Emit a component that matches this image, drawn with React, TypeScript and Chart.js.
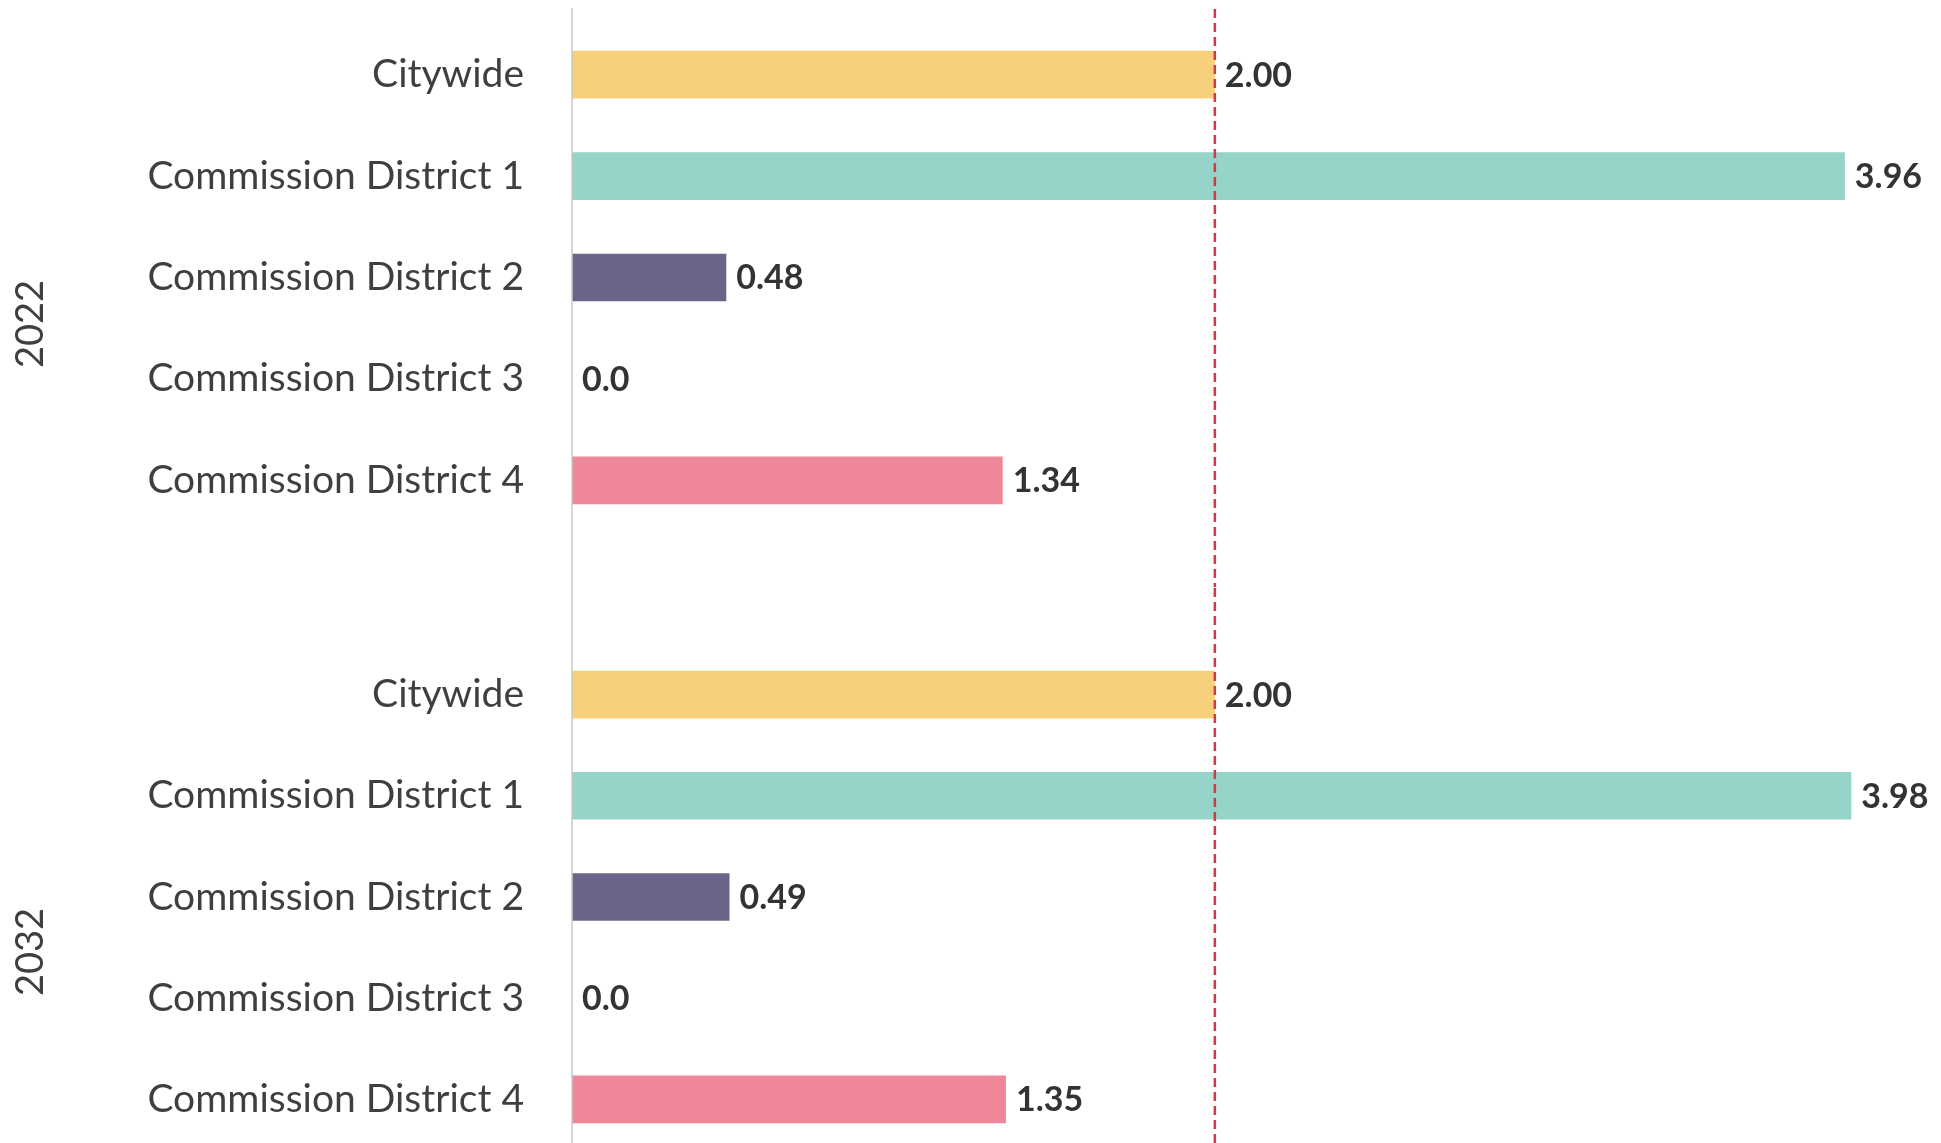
import React, { useEffect, useRef } from "react";
import { Chart, registerables } from "chart.js";

Chart.register(...registerables);

// ---------- data ----------
const CATEGORIES = [
  "Citywide",
  "Commission District 1",
  "Commission District 2",
  "Commission District 3",
  "Commission District 4",
];
const YEARS = ["2022", "2032"];
const VALUES_2022 = [2.0, 3.96, 0.48, 0.0, 1.34];
const VALUES_2032 = [2.0, 3.98, 0.49, 0.0, 1.35];
const VALUE_LABELS_2022 = ["2.00", "3.96", "0.48", "0.0", "1.34"];
const VALUE_LABELS_2032 = ["2.00", "3.98", "0.49", "0.0", "1.35"];
const REFERENCE_VALUE = 2.0;
const X_MIN = 0;
const X_MAX = 4.2;

// ---------- styles ----------
const BAR_COLORS = ["#F6D07B", "#96D3C8", "#686589", "#8FB3D9", "#EE8898"];
const TEXT_COLOR = "#3f3f3f";
const VALUE_COLOR = "#333333";
const AXIS_COLOR = "#c8c8c8";
const REF_COLOR = "#CF3A48";
const FONT = "Lato, 'Open Sans', sans-serif";

const overlayPlugin = {
  id: "overlay",
  afterDatasetsDraw(chart: any, _args: any, opts: any) {
    const { ctx } = chart;
    const xs = chart.scales.x;
    const h = chart.height;
    ctx.save();
    // zero axis line
    const x0 = xs.getPixelForValue(0);
    ctx.strokeStyle = AXIS_COLOR;
    ctx.lineWidth = 1.5;
    ctx.beginPath();
    ctx.moveTo(x0, opts.lineTop);
    ctx.lineTo(x0, h);
    ctx.stroke();
    // reference dashed line
    const xr = xs.getPixelForValue(opts.refValue);
    ctx.setLineDash([9, 5]);
    ctx.strokeStyle = REF_COLOR;
    ctx.lineWidth = 2.5;
    ctx.beginPath();
    ctx.moveTo(xr, opts.lineTop + 1);
    ctx.lineTo(xr, h);
    ctx.stroke();
    ctx.setLineDash([]);
    // value labels
    ctx.fillStyle = VALUE_COLOR;
    ctx.font = `bold 34px ${FONT}`;
    ctx.textAlign = "left";
    ctx.textBaseline = "middle";
    const meta = chart.getDatasetMeta(0);
    meta.data.forEach((bar: any, i: number) => {
      ctx.fillText(opts.valueLabels[i], bar.x + 10, bar.y + 1);
    });
    // year label
    ctx.fillStyle = TEXT_COLOR;
    ctx.font = `38px ${FONT}`;
    ctx.textAlign = "center";
    ctx.textBaseline = "middle";
    ctx.translate(opts.yearX, opts.yearY);
    ctx.rotate(-Math.PI / 2);
    ctx.fillText(opts.year, 0, 0);
    ctx.restore();
  },
};

type PanelProps = {
  values: number[];
  valueLabels: string[];
  year: string;
  top: number;
  height: number;
  padTop: number;
  padBottom: number;
  lineTop: number;
  yearY: number;
};

function Panel(p: PanelProps) {
  const ref = useRef<HTMLCanvasElement>(null);
  useEffect(() => {
    if (!ref.current) return;
    const chart = new Chart(ref.current, {
      type: "bar",
      data: {
        labels: CATEGORIES,
        datasets: [
          {
            data: p.values,
            backgroundColor: BAR_COLORS,
            borderWidth: 0,
            barPercentage: 0.47,
            categoryPercentage: 1,
          },
        ],
      },
      plugins: [overlayPlugin],
      options: {
        indexAxis: "y",
        responsive: false,
        animation: false,
        layout: { padding: { top: p.padTop, bottom: p.padBottom, left: 0, right: 19 } },
        plugins: {
          legend: { display: false },
          tooltip: { enabled: false },
          overlay: {
            refValue: REFERENCE_VALUE,
            valueLabels: p.valueLabels,
            lineTop: p.lineTop,
            year: p.year,
            yearX: 31,
            yearY: p.yearY,
          },
        } as any,
        scales: {
          x: {
            type: "linear",
            min: X_MIN,
            max: X_MAX,
            display: false,
          },
          y: {
            type: "category",
            grid: { display: false, drawTicks: false },
            border: { display: false },
            ticks: {
              padding: 48,
              color: TEXT_COLOR,
              font: { family: FONT, size: 39 },
            },
            afterFit: (s: any) => {
              s.width = 572;
              s.paddingTop = 0;
              s.paddingBottom = 0;
            },
          },
        },
      },
    });
    return () => chart.destroy();
  }, []);
  return (
    <canvas
      ref={ref}
      width={1941}
      height={p.height}
      style={{ position: "absolute", left: 0, top: p.top, width: 1941, height: p.height }}
    />
  );
}

export default function App() {
  return (
    <div
      style={{
        position: "fixed",
        left: 0,
        top: 0,
        width: "100vw",
        height: "100vh",
        overflow: "hidden",
        background: "#ffffff",
      }}
    >
      <Panel
        values={VALUES_2022}
        valueLabels={VALUE_LABELS_2022}
        year={YEARS[0]}
        top={0}
        height={587}
        padTop={24}
        padBottom={56}
        lineTop={8}
        yearY={324}
      />
      <Panel
        values={VALUES_2032}
        valueLabels={VALUE_LABELS_2032}
        year={YEARS[1]}
        top={587}
        height={563}
        padTop={57}
        padBottom={0}
        lineTop={0}
        yearY={365}
      />
    </div>
  );
}
